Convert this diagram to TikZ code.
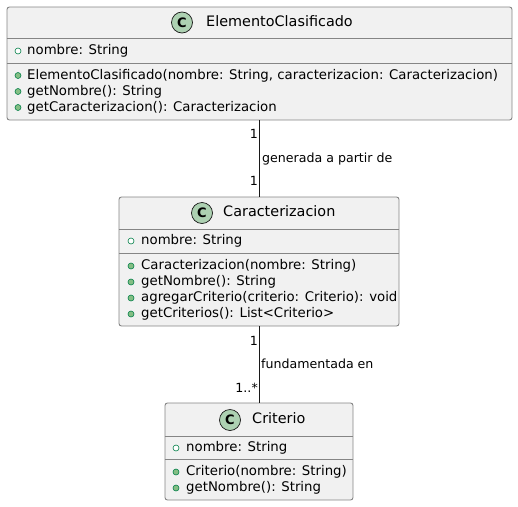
\documentclass[tikz,border=0pt]{standalone}
\usepackage{fontspec}
\setmainfont{DejaVu Sans}
\definecolor{boxfill}{HTML}{F1F1F1}
\definecolor{boxline}{HTML}{858585}
\definecolor{darkline}{HTML}{181818}
\definecolor{cfill}{HTML}{ADD1B2}
\definecolor{visline}{HTML}{038048}
\definecolor{visfill}{HTML}{84BE84}
\tikzset{
  classbox/.style={draw=boxline, fill=boxfill, line width=0.9pt, rounded corners=2.5pt, inner sep=0pt},
  divider/.style={draw=boxline, line width=0.9pt},
  cicon/.style={circle, draw=darkline, fill=cfill, line width=0.7pt, minimum size=21pt, inner sep=0pt, font=\fontsize{13}{13}\selectfont\bfseries},
  cname/.style={anchor=west, inner sep=0pt, font=\fontsize{14.4}{16}\selectfont, text height=10pt, text depth=3pt},
  member/.style={anchor=west, inner sep=0pt, font=\fontsize{13.3}{15}\selectfont, text height=10pt, text depth=3pt},
  attricon/.style={circle, draw=visline, fill=white, line width=0.6pt, minimum size=6pt, inner sep=0pt},
  methicon/.style={circle, draw=visline, fill=visfill, line width=0.6pt, minimum size=6pt, inner sep=0pt},
  assoc/.style={draw=darkline, line width=0.9pt},
  lbl/.style={inner sep=0pt, font=\fontsize{12.6}{14}\selectfont, text height=9pt, text depth=2.5pt},
}
\begin{document}
\begin{tikzpicture}[x=1pt, y=-1pt]
\useasboundingbox (0,0) rectangle (518,506);
% ---- ElementoClasificado
\node[classbox, minimum width=505pt, minimum height=113pt] (b1) at (259.5,63.5) {};
\draw[divider] (b1.west |- 0,38) -- (b1.east |- 0,38);
\draw[divider] (b1.west |- 0,63) -- (b1.east |- 0,63);
\node[cicon] (c1) at (182,22.5) {C};
\node[cname] (n1) at (206,22.5) {ElementoClasificado};
\node[attricon] (a1i) at (18,51) {};
\node[member] (a1) at (27,51) {nombre: String};
\node[methicon] (m1ai) at (18,75.5) {};
\node[member] (m1a) at (27,75.5) {ElementoClasificado(nombre: String, caracterizacion: Caracterizacion)};
\node[methicon] (m1bi) at (18,91.5) {};
\node[member] (m1b) at (27,91.5) {getNombre(): String};
\node[methicon] (m1ci) at (18,107.5) {};
\node[member] (m1c) at (27,107.5) {getCaracterizacion(): Caracterizacion};
% ---- Caracterizacion
\node[classbox, minimum width=280pt, minimum height=129pt] (b2) at (259,261.5) {};
\draw[divider] (b2.west |- 0,229) -- (b2.east |- 0,229);
\draw[divider] (b2.west |- 0,253) -- (b2.east |- 0,253);
\node[cicon] (c2) at (202,213) {C};
\node[cname] (n2) at (223,213) {Caracterizacion};
\node[attricon] (a2i) at (131,241) {};
\node[member] (a2) at (141,241) {nombre: String};
\node[methicon] (m2ai) at (131,266) {};
\node[member] (m2a) at (141,266) {Caracterizacion(nombre: String)};
\node[methicon] (m2bi) at (131,282) {};
\node[member] (m2b) at (141,282) {getNombre(): String};
\node[methicon] (m2ci) at (131,298) {};
\node[member] (m2c) at (141,298) {agregarCriterio(criterio: Criterio): void};
\node[methicon] (m2di) at (131,314) {};
\node[member] (m2d) at (141,314) {getCriterios(): List<Criterio>};
% ---- Criterio
\node[classbox, minimum width=188pt, minimum height=97pt] (b3) at (259,451.5) {};
\draw[divider] (b3.west |- 0,436) -- (b3.east |- 0,436);
\draw[divider] (b3.west |- 0,459) -- (b3.east |- 0,459);
\node[cicon] (c3) at (230,420) {C};
\node[cname] (n3) at (252,420) {Criterio};
\node[attricon] (a3i) at (176,448) {};
\node[member] (a3) at (186,448) {nombre: String};
\node[methicon] (m3ai) at (176,472) {};
\node[member] (m3a) at (186,472) {Criterio(nombre: String)};
\node[methicon] (m3bi) at (176,488) {};
\node[member] (m3b) at (186,488) {getNombre(): String};
% ---- associations
\draw[assoc] (b1.south -| b2.north) -- (b2.north);
\draw[assoc] (b2.south) -- (b3.north);
\node[lbl, anchor=east] (l1a) at (258,135) {1};
\node[lbl, anchor=west] (l1) at (262,159) {generada a partir de};
\node[lbl, anchor=east] (l1b) at (258,182) {1};
\node[lbl, anchor=east] (l2a) at (258,342) {1};
\node[lbl, anchor=west] (l2) at (261,365) {fundamentada en};
\node[lbl, anchor=east] (l2b) at (258,389) {1..*};
\end{tikzpicture}
\end{document}
